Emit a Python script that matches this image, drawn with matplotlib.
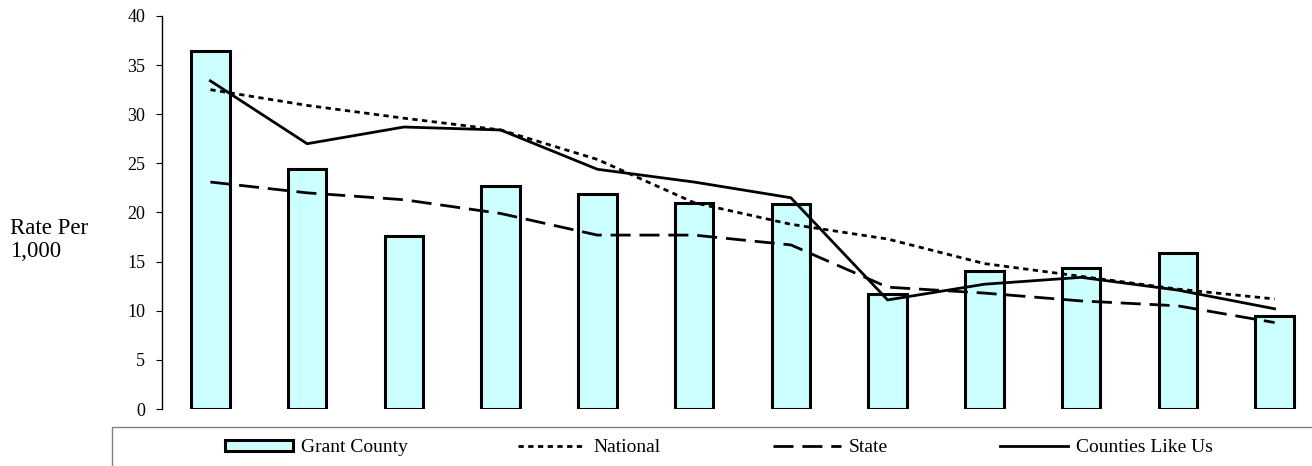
"""
plot.py — Grant County rate per 1,000 vs. National, State and Counties Like Us.

Usage: python3 plot.py
"""

import matplotlib
matplotlib.use("Agg")
import matplotlib.pyplot as plt
from matplotlib.patches import Rectangle
import numpy as np

OUTPUT_PATH = "out.png"

# twelve periods, no labels shown on the x axis
periods = list(range(12))
grant_county = [36.4, 24.4, 17.6, 22.7, 21.9, 21.0, 20.9, 11.7, 14.0, 14.4, 15.9, 9.5]
national = [32.5, 30.9, 29.6, 28.4, 25.4, 21.0, 18.8, 17.3, 14.8, 13.5, 12.2, 11.2]
state = [23.1, 22.0, 21.3, 19.9, 17.7, 17.7, 16.7, 12.4, 11.8, 11.0, 10.5, 8.8]
counties_like_us = [33.4, 27.0, 28.7, 28.4, 24.4, 23.1, 21.5, 11.1, 12.7, 13.4, 12.1, 10.2]
y_ticks = [0, 5, 10, 15, 20, 25, 30, 35, 40]

plt.rcParams["font.family"] = ["Liberation Serif", "DejaVu Serif"]

W, H = 1312, 466
fig = plt.figure(figsize=(W / 100, H / 100), dpi=100)
fig.patch.set_facecolor("white")

# plot area runs a little past the right edge, as in the source
ax = fig.add_axes([162 / W, 1 - 409 / H, (1323 - 162) / W, (409 - 16) / H])

x = np.arange(len(periods))
bars = ax.bar(x, grant_county, width=0.4, color="#CCFFFF", edgecolor="black",
              linewidth=2.2, label="Grant County", zorder=2)
l_nat, = ax.plot(x, national, color="black", linewidth=2.0,
                 linestyle=(0, (1.9, 1.6)), label="National", zorder=3)
l_state, = ax.plot(x, state, color="black", linewidth=2.0,
                   linestyle=(0, (7.2, 3.2)), label="State", zorder=3)
l_clu, = ax.plot(x, counties_like_us, color="black", linewidth=2.0,
                 label="Counties Like Us", zorder=3)

ax.set_xlim(-0.5, 11.5)
ax.set_ylim(0, 40)
ax.set_yticks(y_ticks)
ax.set_xticks([])
for side in ["top", "right", "bottom"]:
    ax.spines[side].set_visible(False)
ax.spines["left"].set_linewidth(1.0)
ax.tick_params(axis="y", direction="out", length=4, width=0.8, pad=8,
               labelsize=13, colors="black")

fig.text(10 / W, 1 - 240 / H, "Rate Per\n1,000", fontsize=16.5,
         ha="left", va="center", linespacing=1.15)

# legend frame: open at the bottom and right like the cropped original
fig.add_artist(Rectangle((112 / W, -0.2), 1.0, (466 - 427) / H + 0.2,
                         transform=fig.transFigure, fill=False,
                         edgecolor="#808080", linewidth=1.0))

# one entry per legend so each sits where the original puts it
entry_x = [225, 518, 773, 1000]
for handle, ex in zip([bars, l_nat, l_state, l_clu], entry_x):
    fig.legend(handles=[handle], loc="center left",
               bbox_to_anchor=(ex / W, 1 - 448 / H), frameon=False,
               fontsize=14, handlelength=3.5, handleheight=0.45,
               handletextpad=0.4, borderpad=0, borderaxespad=0)

fig.savefig(OUTPUT_PATH, dpi=100)
print(f"saved → {OUTPUT_PATH}")
